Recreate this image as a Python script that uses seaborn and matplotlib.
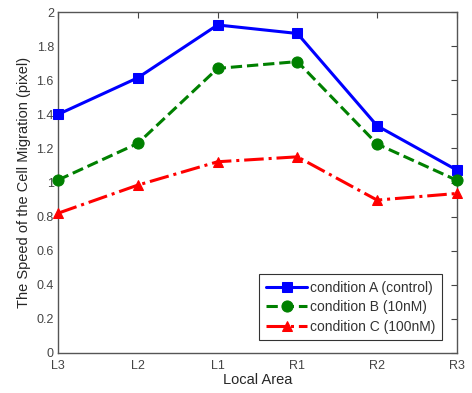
import matplotlib
matplotlib.use("Agg")
import matplotlib.pyplot as plt
import seaborn as sns
import pandas as pd

areas = ["L3", "L2", "L1", "R1", "R2", "R3"]
cond_a = [1.40, 1.615, 1.925, 1.875, 1.333, 1.073]
cond_b = [1.015, 1.23, 1.67, 1.71, 1.226, 1.013]
cond_c = [0.82, 0.985, 1.122, 1.151, 0.897, 0.936]
names = ["condition A (control)", "condition B (10nM)", "condition C (100nM)"]

sns.set_style("white")
plt.rcParams["font.family"] = ["Liberation Sans", "DejaVu Sans"]

fig = plt.figure(figsize=(4.72, 3.93), dpi=100)
ax = fig.add_axes([0.123, 0.102, 0.845, 0.867])

styles = [("blue", "s", "-", 6.5), ("green", "o", "--", 8), ("red", "^", "-.", 7)]
for vals, name, (col, mk, ls, ms) in zip([cond_a, cond_b, cond_c], names, styles):
    df = pd.DataFrame({"area": range(len(areas)), "speed": vals})
    sns.lineplot(data=df, x="area", y="speed", ax=ax, color=col, marker=mk,
                 linestyle=ls, linewidth=2.2, markersize=ms, markeredgecolor=col,
                 label=name, clip_on=False, zorder=3)

ax.set_xlim(0, len(areas) - 1)
ax.set_ylim(0, 2)
ax.set_xticks(range(len(areas)))
ax.set_xticklabels(areas)
ax.set_yticks([0, 0.2, 0.4, 0.6, 0.8, 1, 1.2, 1.4, 1.6, 1.8, 2])
ax.set_yticklabels(["0", "0.2", "0.4", "0.6", "0.8", "1", "1.2", "1.4", "1.6", "1.8", "2"])
ax.tick_params(direction="in", top=True, right=True, length=4, width=0.8,
               labelsize=9, colors="#444444", labelcolor="#444444", pad=3)
ax.tick_params(axis="x", pad=5)
for s in ax.spines.values():
    s.set_color("#555555")
    s.set_linewidth(1.0)
ax.set_xlabel("Local Area", fontsize=10.5, labelpad=1)
ax.set_ylabel("The Speed of the Cell Migration (pixel)", fontsize=10.5, labelpad=4)

leg = ax.legend(loc="lower right", bbox_to_anchor=(0.962, 0.038), borderaxespad=0,
                fontsize=10, frameon=True, fancybox=False, edgecolor="black",
                handlelength=3.0, borderpad=0.45, labelspacing=0.4, handletextpad=0.2)
leg.get_frame().set_linewidth(0.8)
for t in leg.get_texts():
    t.set_color("#333333")

fig.savefig("out.png", dpi=100)
